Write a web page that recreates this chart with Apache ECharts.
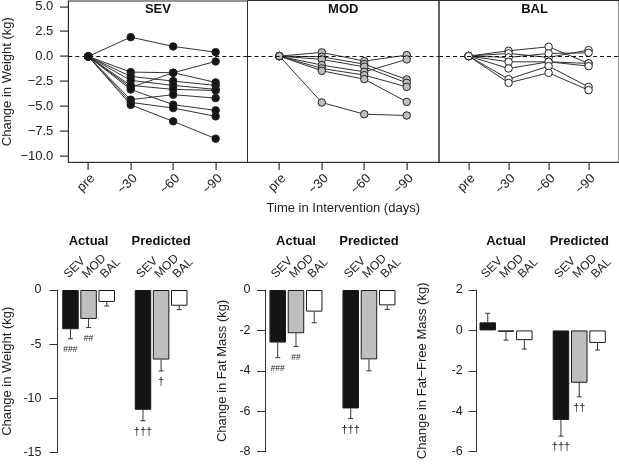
<!DOCTYPE html>
<html><head><meta charset="utf-8">
<script src="https://cdn.jsdelivr.net/npm/echarts@6/dist/echarts.min.js"></script>
<style>html,body{margin:0;padding:0;background:#fff}#c{width:619px;height:469px}</style>
</head><body><div id="c"></div>
<script>
// ---------- data ----------
const timeLabels = ['pre', '~30', '~60', '~90'];
const timeTicks = [0, 1, 2, 3];
const topTicks = [-10, -7.5, -5, -2.5, 0, 2.5, 5];
const groupNames = ['SEV', 'MOD', 'BAL'];
const sevSubjects = [
  [0, 1.93, 1.00, 0.43],
  [0, -3.10, -1.63, -0.50],
  [0, -1.57, -1.63, -2.60],
  [0, -2.00, -2.47, -2.90],
  [0, -2.40, -2.90, -3.30],
  [0, -2.90, -3.30, -3.40],
  [0, -3.30, -4.83, -5.40],
  [0, -4.33, -3.83, -4.17],
  [0, -4.60, -5.17, -6.00],
  [0, -4.85, -6.50, -8.23]
];
const modSubjects = [
  [0, 0.37, -0.50, 0.10],
  [0, -0.07, -0.80, -2.33],
  [0, -0.33, -1.07, -2.67],
  [0, -0.90, -1.57, -0.33],
  [0, -1.23, -1.90, -3.07],
  [0, -1.47, -2.30, -4.57],
  [0, -4.63, -5.80, -5.93]
];
const balSubjects = [
  [0, 0.53, 0.93, -0.73],
  [0, 0.27, -0.13, 0.60],
  [0, -0.13, 0.27, 0.33],
  [0, -0.57, -0.57, -0.73],
  [0, -1.23, -0.57, -1.00],
  [0, -2.30, -1.00, -3.07],
  [0, -2.67, -1.67, -3.40]
];
const barCategories = ['SEV', 'MOD', 'BAL', '', 'SEV', 'MOD', 'BAL'];
const groupHeaders = ['Actual', 'Predicted'];
// weight
const weightActual = [-3.62, -2.67, -1.10];
const weightActualSE = [0.88, 0.80, 0.37];
const weightPred = [-11.06, -6.42, -1.45];
const weightPredSE = [1.01, 1.05, 0.36];
const weightMarks = ['###', '##', '', '\u2020\u2020\u2020', '\u2020', ''];
// fat mass
const fatActual = [-2.60, -2.14, -1.07];
const fatActualSE = [0.75, 0.66, 0.55];
const fatPred = [-5.86, -3.43, -0.76];
const fatPredSE = [0.50, 0.57, 0.20];
const fatMarks = ['###', '##', '', '\u2020\u2020\u2020', '', ''];
// fat-free mass
const ffmActual = [0.40, -0.07, -0.48];
const ffmActualSE = [0.45, 0.41, 0.44];
const ffmPred = [-4.43, -2.59, -0.62];
const ffmPredSE = [0.80, 0.69, 0.35];
const ffmMarks = ['', '', '', '\u2020\u2020\u2020', '\u2020\u2020', ''];

// ---------- styling ----------
const FONT = 'Liberation Sans, Arial, Helvetica, sans-serif';
const INK = '#222';
const groupFill = ['#141414', '#bebebe', '#ffffff'];

const chart = echarts.init(document.getElementById('c'));

const YMIN = -10.6, YMAX = 5.55;
const topGrids = [
  { left: 68.3, top: 0.5, width: 179.2, height: 161.8, xmin: -0.47, xmax: 3.75 },
  { left: 247.5, top: 0.5, width: 191.5, height: 161.8, xmin: -0.75, xmax: 3.76 },
  { left: 439, top: 0.5, width: 191, height: 161.8, xmin: -0.74, xmax: 3.76 }
];
const botGrids = [
  { left: 60.9, top: 290, width: 127.4, height: 162.5, offset: 3.9, min: -15, max: 0, interval: 5, name: 'Change in Weight (kg)', nameGap: 43.5, lblMargin: 16 },
  { left: 268.6, top: 290, width: 127.75, height: 161.7, offset: 3.6, min: -8, max: 0, interval: 2, name: 'Change in Fat Mass (kg)', nameGap: 36.5, lblMargin: 14.5 },
  { left: 478.6, top: 290, width: 128.1, height: 161.7, offset: 1.9, min: -6, max: 2, interval: 2, name: 'Change in Fat\u2212Free Mass (kg)', nameGap: 47.5, lblMargin: 14 }
];
const barSets = [
  { act: weightActual, actSE: weightActualSE, pred: weightPred, predSE: weightPredSE, marks: weightMarks },
  { act: fatActual, actSE: fatActualSE, pred: fatPred, predSE: fatPredSE, marks: fatMarks },
  { act: ffmActual, actSE: ffmActualSE, pred: ffmPred, predSE: ffmPredSE, marks: ffmMarks }
];
const slotIndex = [0, 1, 2, 4, 5, 6];

const grid = [], xAxis = [], yAxis = [], series = [];
const BOX = '#2e2e2e';

topGrids.forEach((g, i) => {
  grid.push({ left: g.left, top: g.top, width: g.width, height: g.height, show: true, borderColor: BOX, borderWidth: 1, containLabel: false });
  xAxis.push({
    type: 'value', gridIndex: i, min: g.xmin, max: g.xmax, position: 'bottom',
    axisLine: { show: true, onZero: false, lineStyle: { color: BOX } }, splitLine: { show: false },
    axisTick: { show: false },
    axisLabel: {
      customValues: timeTicks, rotate: 45, align: 'right', verticalAlign: 'top', margin: 9.5,
      fontSize: 13, fontFamily: FONT, color: INK,
      formatter: v => timeLabels[Math.round(v)]
    },
    name: i === 1 ? 'Time in Intervention (days)' : '',
    nameLocation: 'middle', nameGap: 40,
    nameTextStyle: { fontSize: 13, fontFamily: FONT, color: INK }
  });
  yAxis.push({
    type: 'value', gridIndex: i, min: YMIN, max: YMAX, position: 'left',
    show: i === 0,
    axisLine: { show: true, onZero: false, lineStyle: { color: BOX } }, splitLine: { show: false },
    axisTick: { show: false },
    axisLabel: {
      customValues: topTicks, margin: 15, fontSize: 13, fontFamily: FONT, color: INK,
      formatter: v => v.toFixed(1).replace('-', '\u2212')
    },
    name: i === 0 ? 'Change in Weight (kg)' : '',
    nameLocation: 'middle', nameGap: 54,
    nameTextStyle: { fontSize: 13, fontFamily: FONT, color: INK }
  });
});

botGrids.forEach((g, k) => {
  const gi = 3 + k;
  grid.push({ left: g.left, top: g.top, width: g.width, height: g.height, show: false });
  xAxis.push({
    type: 'category', gridIndex: gi, data: barCategories, position: 'top',
    axisLine: { show: false, onZero: false }, axisTick: { show: false }, splitLine: { show: false },
    axisLabel: { interval: 0, rotate: -45, align: 'left', verticalAlign: 'bottom', margin: 9.5, fontSize: 12, fontFamily: FONT, color: INK }
  });
  yAxis.push({
    type: 'value', gridIndex: gi, min: g.min, max: g.max, interval: g.interval, offset: g.offset, position: 'left',
    axisLine: { show: true, onZero: false, lineStyle: { color: '#333' } },
    axisTick: { show: true, length: 8, lineStyle: { color: '#333' } },
    splitLine: { show: false },
    axisLabel: { margin: g.lblMargin, fontSize: 12.5, fontFamily: FONT, color: INK },
    name: g.name, nameLocation: 'middle', nameGap: g.nameGap,
    nameTextStyle: { fontSize: 13, fontFamily: FONT, color: INK }
  });
});

// top panels: lines
[sevSubjects, modSubjects, balSubjects].forEach((subs, g) => {
  subs.forEach((s, j) => {
    const ser = {
      type: 'line', xAxisIndex: g, yAxisIndex: g, silent: true,
      data: s.map((v, t) => [t, v]), showSymbol: false, symbol: 'none',
      lineStyle: { color: '#333', width: 1 }, z: 2
    };
    if (j === 0) {
      ser.markLine = {
        silent: true, symbol: ['none', 'none'], label: { show: false },
        lineStyle: { color: '#111', type: [4, 3], width: 1 },
        data: [{ yAxis: 0 }]
      };
    }
    series.push(ser);
  });
  const pts = [];
  subs.forEach(s => s.forEach((v, t) => pts.push([t, v])));
  series.push({
    type: 'scatter', xAxisIndex: g, yAxisIndex: g, silent: true, data: pts,
    symbol: 'circle', symbolSize: 7.5, z: 3,
    itemStyle: { color: groupFill[g], borderColor: '#222', borderWidth: 1, opacity: 1 }
  });
});

// bottom panels: bars + error bars
barSets.forEach((b, k) => {
  const gi = 3 + k;
  const vals = b.act.concat(b.pred);
  const ses = b.actSE.concat(b.predSE);
  const barData = barCategories.map(() => '-');
  vals.forEach((v, i) => {
    barData[slotIndex[i]] = { value: v, itemStyle: { color: groupFill[i % 3] } };
  });
  series.push({
    type: 'bar', xAxisIndex: gi, yAxisIndex: gi, data: barData, barWidth: 16.5, silent: true,
    itemStyle: { borderColor: '#1a1a1a', borderWidth: 1 }, z: 2
  });
  series.push({
    type: 'custom', xAxisIndex: gi, yAxisIndex: gi, silent: true, z: 3,
    data: vals.map((v, i) => [slotIndex[i], v, v < 0 ? v - ses[i] : v + ses[i]]),
    renderItem: (params, api) => {
      const x = api.value(0), m = api.value(1), e = api.value(2);
      const p0 = api.coord([x, m]), p1 = api.coord([x, e]);
      const dir = e < m ? 1 : -1;
      const mark = b.marks[params.dataIndex];
      const isHash = mark.indexOf('#') >= 0;
      const children = [
        { type: 'line', shape: { x1: p0[0], y1: p0[1], x2: p1[0], y2: p1[1] }, style: { stroke: '#333', lineWidth: 1 } },
        { type: 'line', shape: { x1: p1[0] - 2.5, y1: p1[1], x2: p1[0] + 2.5, y2: p1[1] }, style: { stroke: '#333', lineWidth: 1 } }
      ];
      if (mark) {
        children.push({
          type: 'text', x: p1[0], y: p1[1] + dir * 11,
          style: { text: mark, fill: '#222', font: (isHash ? '8.5px ' : '11px ') + FONT, textAlign: 'center', textVerticalAlign: 'middle' }
        });
      }
      return { type: 'group', children };
    }
  });
});

chart.setOption({
  animation: false,
  backgroundColor: '#fff',
  textStyle: { fontFamily: FONT },
  grid, xAxis, yAxis, series
});

// headers and top-panel tick marks, positioned through the axes' scales
function toPx(i, x, y, g) {
  let p = chart.convertToPixel({ xAxisIndex: i, yAxisIndex: i }, [x, y]);
  if (!p || !isFinite(p[0]) || !isFinite(p[1])) {
    p = [g.left + (x - g.xmin) / (g.xmax - g.xmin) * g.width,
         g.top + (YMAX - y) / (YMAX - YMIN) * g.height];
  }
  return p;
}
const graphic = [];
topGrids.forEach((g, i) => {
  graphic.push({
    type: 'text', x: g.left + g.width / 2, y: 9.5,
    style: { text: groupNames[i], font: 'bold 13px ' + FONT, fill: '#111', textAlign: 'center', textVerticalAlign: 'middle' }
  });
  timeTicks.forEach(t => {
    const p = toPx(i, t, YMIN, g);
    graphic.push({ type: 'rect', z: 100, silent: true, shape: { x: Math.round(p[0]) - 0.5, y: Math.round(p[1]), width: 1.2, height: 8 }, style: { fill: BOX } });
  });
  if (i === 0) {
    topTicks.forEach(v => {
      const p = toPx(i, g.xmin, v, g);
      graphic.push({ type: 'rect', z: 100, silent: true, shape: { x: Math.round(p[0]) - 8, y: Math.round(p[1]) - 0.5, width: 8, height: 1.2 }, style: { fill: BOX } });
    });
  }
});
botGrids.forEach((g, k) => {
  [1, 5].forEach((slot, h) => {
    const px = chart.convertToPixel({ xAxisIndex: 3 + k }, slot);
    graphic.push({
      type: 'text', x: px, y: 241.5,
      style: { text: groupHeaders[h], font: 'bold 13px ' + FONT, fill: '#111', textAlign: 'center', textVerticalAlign: 'middle' }
    });
  });
});
chart.setOption({ graphic });
</script>
</body></html>
